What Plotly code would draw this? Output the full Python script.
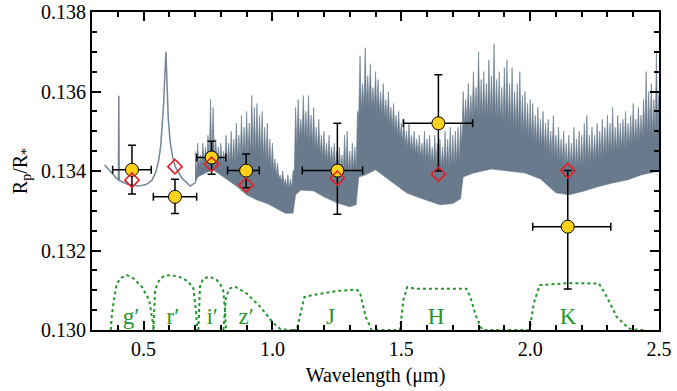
import numpy as np
import plotly.graph_objects as go

# ---------------- observed transit depths (band-averaged) ----------------
band_names = ["g′", "r′", "i′", "z′", "J", "H", "K"]
wl_obs = [0.455, 0.622, 0.764, 0.898, 1.252, 1.644, 2.146]
wl_lo = [0.380, 0.538, 0.706, 0.826, 1.116, 1.508, 2.010]
wl_hi = [0.530, 0.706, 0.819, 0.949, 1.350, 1.777, 2.313]
rp_obs = [0.13403, 0.13335, 0.13434, 0.13401, 0.13401, 0.13520, 0.13260]
rp_err_hi = [0.00062, 0.00044, 0.00041, 0.00042, 0.00119, 0.00122, 0.00141]
rp_err_lo = [0.00061, 0.00042, 0.00042, 0.00043, 0.00110, 0.00120, 0.00157]
rp_model_band = [0.13377, 0.13411, 0.13417, 0.13365, 0.13382, 0.13392, 0.13401]

# ---------------- model spectrum: smooth optical part ----------------
smooth_wl = [0.349, 0.380, 0.400, 0.4025, 0.404, 0.4055, 0.440, 0.480, 0.510,
             0.533, 0.548, 0.559, 0.567, 0.572, 0.578, 0.582, 0.585, 0.587,
             0.589, 0.592, 0.596, 0.604, 0.613, 0.623, 0.649, 0.681, 0.700]
smooth_rp = [0.13415, 0.13392, 0.13378, 0.13377, 0.13589, 0.13376, 0.13366,
             0.13362, 0.13366, 0.13377, 0.13398, 0.13428, 0.13465, 0.13511,
             0.13570, 0.13630, 0.13680, 0.13700, 0.13660, 0.13590, 0.13530,
             0.13470, 0.13435, 0.13411, 0.13382, 0.13362, 0.13370]

# ---------------- model spectrum: dense molecular band (lower / upper envelope) ----------------
band_wl = [0.700, 0.710, 0.740, 0.770, 0.800, 0.830, 0.860, 0.900, 0.940, 0.980,
           1.020, 1.050, 1.080, 1.090, 1.110, 1.160, 1.200, 1.250, 1.300, 1.325,
           1.335, 1.360, 1.400, 1.440, 1.480, 1.520, 1.560, 1.600, 1.650, 1.700,
           1.730, 1.740, 1.780, 1.850, 1.920, 1.980, 2.040, 2.100, 2.150, 2.200,
           2.260, 2.320, 2.380, 2.430, 2.500]
band_lo = [0.13368, 0.13385, 0.13395, 0.13403, 0.13390, 0.13375, 0.13362, 0.13340, 0.13327, 0.13318,
           0.13305, 0.13294, 0.13294, 0.13340, 0.13352, 0.13350, 0.13335, 0.13320, 0.13310, 0.13315,
           0.13385, 0.13390, 0.13403, 0.13385, 0.13365, 0.13345, 0.13335, 0.13325, 0.13315, 0.13318,
           0.13330, 0.13385, 0.13395, 0.13405, 0.13400, 0.13395, 0.13380, 0.13345, 0.13340, 0.13348,
           0.13360, 0.13370, 0.13378, 0.13390, 0.13400]
band_hi = [0.13372, 0.13410, 0.13420, 0.13430, 0.13420, 0.13415, 0.13425, 0.13440, 0.13445, 0.13420,
           0.13385, 0.13360, 0.13355, 0.13450, 0.13490, 0.13460, 0.13430, 0.13410, 0.13395, 0.13405,
           0.13540, 0.13565, 0.13555, 0.13530, 0.13495, 0.13460, 0.13440, 0.13425, 0.13410, 0.13410,
           0.13425, 0.13510, 0.13535, 0.13535, 0.13515, 0.13490, 0.13460, 0.13430, 0.13410, 0.13410,
           0.13430, 0.13445, 0.13460, 0.13480, 0.13500]

# line peaks, one per 0.01 um from 0.70 to 2.50 um
spike_wl = [round(0.70 + 0.01 * k, 2) for k in range(181)]
spike_rp = [
    0.1345, 0.1347, 0.1344, 0.1347, 0.1346, 0.1349, 0.1358, 0.1356, 0.1348, 0.1346,  # 0.70
    0.1347, 0.1345, 0.1349, 0.1347, 0.1350, 0.1348, 0.1352, 0.1349, 0.1354, 0.1351,  # 0.80
    0.1355, 0.1352, 0.1359, 0.1356, 0.1357, 0.1354, 0.1355, 0.1351, 0.1352, 0.1348,  # 0.90
    0.1347, 0.1343, 0.1342, 0.1339, 0.1340, 0.1338, 0.1339, 0.1338, 0.1340, 0.1356,  # 1.00
    0.1358, 0.1353, 0.1359, 0.1355, 0.1359, 0.1354, 0.1356, 0.1351, 0.1353, 0.1349,  # 1.10
    0.1350, 0.1347, 0.1349, 0.1346, 0.1347, 0.1345, 0.1346, 0.1344, 0.1349, 0.1350,  # 1.20
    0.1345, 0.1347, 0.1346, 0.1355, 0.1369, 0.1362, 0.1371, 0.1364, 0.1367, 0.1361,  # 1.30
    0.1365, 0.1363, 0.1360, 0.1362, 0.1358, 0.1360, 0.1356, 0.1357, 0.1354, 0.1355,  # 1.40
    0.1352, 0.1353, 0.1350, 0.1352, 0.1349, 0.1350, 0.1348, 0.1349, 0.1347, 0.1350,  # 1.50
    0.1348, 0.1349, 0.1346, 0.1349, 0.1347, 0.1348, 0.1346, 0.1350, 0.1348, 0.1351,  # 1.60
    0.1349, 0.1350, 0.1351, 0.1352, 0.1360, 0.1358, 0.1362, 0.1359, 0.1365, 0.1361,  # 1.70
    0.1370, 0.1363, 0.1365, 0.1362, 0.1368, 0.1364, 0.1372, 0.1363, 0.1365, 0.1361,  # 1.80
    0.1366, 0.1368, 0.1362, 0.1366, 0.1360, 0.1362, 0.1365, 0.1359, 0.1360, 0.1357,  # 1.90
    0.1358, 0.1357, 0.1354, 0.1356, 0.1353, 0.1355, 0.1352, 0.1353, 0.1350, 0.1354,  # 2.00
    0.1349, 0.1351, 0.1348, 0.1350, 0.1347, 0.1349, 0.1347, 0.1351, 0.1348, 0.1350,  # 2.10
    0.1349, 0.1352, 0.1354, 0.1349, 0.1351, 0.1349, 0.1352, 0.1350, 0.1353, 0.1351,  # 2.20
    0.1354, 0.1352, 0.1356, 0.1351, 0.1354, 0.1352, 0.1353, 0.1355, 0.1352, 0.1354,  # 2.30
    0.1357, 0.1353, 0.1356, 0.1354, 0.1358, 0.1365, 0.1360, 0.1362, 0.1358, 0.1370,  # 2.40
    0.1360,                                                                          # 2.50
]

# ---------------- filter transmission curves (plotted in axis units) ----------------
g_wl = [0.373, 0.376, 0.383, 0.396, 0.415, 0.435, 0.460, 0.493, 0.522, 0.532, 0.541]
g_rp = [0.1300, 0.13030, 0.13067, 0.13117, 0.13132, 0.13138, 0.13130, 0.13109, 0.13075, 0.13030, 0.1300]
r_wl = [0.538, 0.541, 0.545, 0.555, 0.564, 0.580, 0.603, 0.630, 0.654, 0.675, 0.693, 0.703, 0.709]
r_rp = [0.1300, 0.13060, 0.13100, 0.13118, 0.13128, 0.13136, 0.13138, 0.13135, 0.13130, 0.13120, 0.13105, 0.13050, 0.1300]
i_wl = [0.713, 0.716, 0.719, 0.732, 0.758, 0.784, 0.800, 0.809, 0.816, 0.820]
i_rp = [0.1300, 0.13050, 0.13109, 0.13130, 0.13134, 0.13126, 0.13112, 0.13100, 0.13050, 0.1300]
z_wl = [0.810, 0.815, 0.820, 0.836, 0.855, 0.900, 0.952, 1.004, 1.030, 1.060, 1.100]
z_rp = [0.1300, 0.13045, 0.13084, 0.13105, 0.13109, 0.13092, 0.13059, 0.13017, 0.13003, 0.1300, 0.1300]
J_wl = [1.080, 1.094, 1.106, 1.124, 1.155, 1.247, 1.324, 1.339, 1.362, 1.385, 1.400]
J_rp = [0.1300, 0.1300, 0.13033, 0.13083, 0.13088, 0.13098, 0.13102, 0.13096, 0.13033, 0.1300, 0.1300]
H_wl = [1.400, 1.495, 1.508, 1.523, 1.554, 1.650, 1.753, 1.768, 1.791, 1.814, 1.990]
H_rp = [0.1300, 0.1300, 0.13075, 0.13108, 0.13104, 0.13104, 0.13104, 0.13083, 0.13033, 0.1300, 0.1300]
K_wl = [1.990, 1.998, 2.014, 2.037, 2.152, 2.267, 2.298, 2.336, 2.382, 2.420, 2.450]
K_rp = [0.1300, 0.1300, 0.13067, 0.13113, 0.13118, 0.13117, 0.13083, 0.13033, 0.13004, 0.1300, 0.1300]

label_wl = [0.451, 0.614, 0.766, 0.898, 1.225, 1.635, 2.147]
label_rp = [0.1303] * 7

x_ticks = [0.5, 1.0, 1.5, 2.0, 2.5]
y_ticks = [0.130, 0.132, 0.134, 0.136, 0.138]

# ---------------- styling ----------------
FONT = "Liberation Serif, Times New Roman, serif"
SPEC = "#687a8b"
GREEN = "#24962b"

fig = go.Figure()

# dense molecular region: a closed outline whose top runs peak -> body valley -> peak
body_at_mid = np.interp([w + 0.005 for w in spike_wl], band_wl, band_hi)
poly_x, poly_y = [], []
for w, t, v in zip(spike_wl, spike_rp, body_at_mid):
    poly_x += [w, w + 0.005]
    poly_y += [t, v]
poly_x = poly_x[:-1] + band_wl[::-1]
poly_y = poly_y[:-1] + band_lo[::-1]
fig.add_trace(go.Scatter(x=poly_x, y=poly_y, mode="lines", fill="toself", fillcolor=SPEC,
                         line=dict(width=0.6, color=SPEC), showlegend=False, hoverinfo="skip"))

# smooth optical model
fig.add_trace(go.Scatter(x=smooth_wl, y=smooth_rp, mode="lines", line=dict(width=1.5, color="#74869a"),
                         showlegend=False))

# filters
for fw, fr in [(g_wl, g_rp), (r_wl, r_rp), (i_wl, i_rp), (z_wl, z_rp),
               (J_wl, J_rp), (H_wl, H_rp), (K_wl, K_rp)]:
    fig.add_trace(go.Scatter(x=fw, y=fr, mode="lines",
                             line=dict(color=GREEN, width=2, dash="dot"),
                             showlegend=False))

# filter labels
fig.add_trace(go.Scatter(x=label_wl, y=label_rp, mode="text", text=band_names,
                         textfont=dict(family=FONT, size=23, color=GREEN),
                         textposition="middle center", showlegend=False))

# observed points
fig.add_trace(go.Scatter(
    x=wl_obs, y=rp_obs, mode="markers",
    marker=dict(symbol="circle", size=13, color="#ffd21a", line=dict(color="black", width=1)),
    error_y=dict(type="data", symmetric=False, array=rp_err_hi, arrayminus=rp_err_lo,
                 color="black", thickness=1.5, width=4),
    error_x=dict(type="data", symmetric=False,
                 array=[h - w for h, w in zip(wl_hi, wl_obs)],
                 arrayminus=[w - l for w, l in zip(wl_obs, wl_lo)],
                 color="black", thickness=1.5, width=4),
    showlegend=False))

# model band-averaged values
fig.add_trace(go.Scatter(
    x=wl_obs, y=rp_model_band, mode="markers",
    marker=dict(symbol="diamond-open", size=11, color="#e41f26", line=dict(color="#e41f26", width=1.6)),
    showlegend=False))

axis_common = dict(showline=True, linecolor="black", linewidth=2, mirror="allticks",
                   ticks="inside", ticklen=9, tickwidth=1.5, tickcolor="black",
                   showgrid=False, zeroline=False, automargin=False,
                   ticklabeloverflow="allow",
                   tickfont=dict(family=FONT, size=20, color="black"))

fig.update_xaxes(range=[0.3, 2.5], tickvals=x_ticks, ticktext=[f"{v:.1f}" for v in x_ticks],
                 minor=dict(ticks="inside", ticklen=5, tickwidth=1.5, tickcolor="black",
                            dtick=0.1, tick0=0.0, showgrid=False),
                 title=dict(text="Wavelength (μm)", font=dict(family=FONT, size=20, color="black"),
                            standoff=9),
                 **axis_common)
fig.update_yaxes(range=[0.130, 0.138], tickvals=y_ticks, ticktext=[f"{v:.3f}" for v in y_ticks],
                 minor=dict(ticks="inside", ticklen=5, tickwidth=1.5, tickcolor="black",
                            dtick=0.0005, tick0=0.130, showgrid=False),
                 title=dict(text="R<sub>p</sub>/R<sub>*</sub>", font=dict(family=FONT, size=20, color="black"),
                            standoff=8),
                 **axis_common)

fig.update_layout(width=677, height=391, margin=dict(l=92, r=18, t=12, b=61),
                  plot_bgcolor="white", paper_bgcolor="white", showlegend=False)

# remove the page's default 8px body margin so the figure fills the window exactly
fig.write_html("out.html", config={"displayModeBar": False},
               post_script="document.body.style.margin='0';")
